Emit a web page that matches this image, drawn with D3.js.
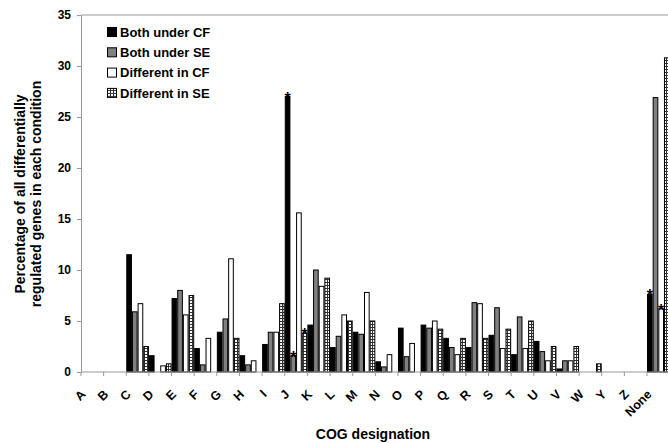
<!DOCTYPE html>
<html>
<head>
  <meta charset="utf-8">
  <title>COG designation bar chart</title>
  <script src="https://d3js.org/d3.v7.min.js"></script>
  <style>
    body { margin: 0; background: #fff; }
    text { font-family: "Liberation Sans", Arial, sans-serif; font-weight: bold; fill: #000; }
  </style>
</head>
<body>
<script>
  const width = 668;
  const height = 443;

  const categories = ["A","B","C","D","E","F","G","H","I","J","K","L","M",
                      "N","O","P","Q","R","S","T","U","V","W","Y","Z","None"];
  const bothCF = [0,0,11.5,1.6,7.2,2.3,3.9,1.6,2.7,27.0,4.6,2.4,3.9,1.0,4.3,4.6,3.3,2.4,3.6,1.7,3.0,0.3,0,0,0,7.6];
  const bothSE = [0,0,5.9,0,8.0,0.7,5.2,0.7,3.9,1.6,10.0,3.5,3.7,0.5,1.5,4.3,2.4,6.8,6.3,5.4,2.0,1.1,0,0,0,26.9];
  const diffCF = [0,0,6.7,0.6,5.6,3.3,11.1,1.1,3.9,15.6,8.4,5.6,7.8,1.7,2.8,5.0,1.7,6.7,2.3,2.3,1.1,1.1,0,0,0,6.2];
  const diffSE = [0,0,2.5,0.8,7.5,0,3.3,0,6.7,3.8,9.2,5.0,5.0,0,0,4.2,3.3,3.3,4.2,5.0,2.5,2.5,0.8,0,0,30.8];
  const seriesNames = ["Both under CF", "Both under SE", "Different in CF", "Different in SE"];
  const yTicks = [0, 5, 10, 15, 20, 25, 30, 35];
  // bars marked with an asterisk: [category, series index]
  const starred = [["J", 0], ["J", 1], ["J", 3], ["None", 0], ["None", 2]];

  const series = [bothCF, bothSE, diffCF, diffSE];
  const fills = ["#000", "#808080", "#fff", "url(#grid)"];

  const margin = {top: 15, left: 81, bottom: 71};
  const slotW = 22.64;

  const svg = d3.select("body").append("svg")
    .attr("width", width)
    .attr("height", height);

  const defs = svg.append("defs");
  const pat = defs.append("pattern")
    .attr("id", "grid")
    .attr("patternUnits", "userSpaceOnUse")
    .attr("width", 3).attr("height", 3);
  pat.append("rect").attr("width", 3).attr("height", 3).attr("fill", "#333");
  pat.append("rect").attr("x", 1).attr("y", 1).attr("width", 2).attr("height", 2).attr("fill", "#fff");

  const x = d3.scaleBand()
    .domain(categories)
    .range([margin.left, margin.left + slotW * categories.length])
    .padding(0);

  const sub = d3.scaleBand()
    .domain(d3.range(series.length))
    .range([0, x.bandwidth()])
    .padding(0);

  const y = d3.scaleLinear()
    .domain([0, 35])
    .range([height - margin.bottom, margin.top]);

  // plot frame top line
  svg.append("line")
    .attr("x1", margin.left).attr("x2", width)
    .attr("y1", y(35)).attr("y2", y(35))
    .attr("stroke", "#999");

  // bars
  series.forEach((vals, si) => {
    svg.append("g").selectAll("rect")
      .data(categories.map((c, i) => ({c, v: vals[i]})).filter(d => d.v > 0))
      .join("rect")
      .attr("x", d => x(d.c) + sub(si) + 0.5)
      .attr("y", d => y(d.v))
      .attr("width", sub.bandwidth() - 1)
      .attr("height", d => y(0) - y(d.v))
      .attr("fill", fills[si])
      .attr("stroke", "#000")
      .attr("stroke-width", 1);
  });

  // asterisks, sitting on the top of their bar
  svg.append("g").selectAll("text")
    .data(starred)
    .join("text")
    .attr("x", d => x(d[0]) + sub(d[1]) + sub.bandwidth() / 2)
    .attr("y", d => y(series[d[1]][categories.indexOf(d[0])]) + 7)
    .attr("text-anchor", "middle")
    .style("font-size", "16px")
    .text("*");

  // y axis
  const yAxis = svg.append("g")
    .attr("transform", `translate(${margin.left},0)`)
    .call(d3.axisLeft(y).tickValues(yTicks).tickSize(4).tickPadding(6));
  yAxis.selectAll("path, line").attr("stroke", "#999");
  yAxis.selectAll("text").style("font-size", "12px").style("font-family", "'Liberation Sans', Arial, sans-serif").style("font-weight", "bold");

  // x axis
  const xAxis = svg.append("g")
    .attr("transform", `translate(0,${y(0)})`);
  xAxis.append("line")
    .attr("x1", margin.left).attr("x2", width)
    .attr("stroke", "#999");
  xAxis.selectAll("line.tick")
    .data(categories)
    .join("line")
    .attr("class", "tick")
    .attr("x1", d => x(d)).attr("x2", d => x(d))
    .attr("y1", 0).attr("y2", 4)
    .attr("stroke", "#999");
  xAxis.selectAll("text")
    .data(categories)
    .join("text")
    .attr("transform", d => `translate(${x(d) + x.bandwidth() / 2 - 9},20) rotate(-45)`)
    .attr("text-anchor", "end")
    .attr("dy", "0.35em")
    .style("font-size", "12.5px")
    .text(d => d);

  // axis titles
  svg.append("text")
    .attr("x", 373).attr("y", 439)
    .attr("text-anchor", "middle")
    .style("font-size", "14px")
    .text("COG designation");

  const yTitle = svg.append("text")
    .attr("transform", "translate(20,194) rotate(-90)")
    .attr("text-anchor", "middle")
    .style("font-size", "14px");
  yTitle.append("tspan").attr("x", 0).attr("dy", "0.35em").text("Percentage of all differentially");
  yTitle.append("tspan").attr("x", 0).attr("dy", "1.15em").text("regulated genes in each condition");

  // legend
  const legend = svg.append("g").attr("transform", "translate(107,32)");
  const item = legend.selectAll("g")
    .data(seriesNames)
    .join("g")
    .attr("transform", (d, i) => `translate(0,${i * 20.3})`);
  item.append("rect")
    .attr("x", 0.5).attr("y", -4.5)
    .attr("width", 9).attr("height", 9)
    .attr("fill", (d, i) => fills[i])
    .attr("stroke", "#000");
  item.append("text")
    .attr("x", 13).attr("dy", "0.36em")
    .style("font-size", "13px")
    .text(d => d);
</script>
</body>
</html>
